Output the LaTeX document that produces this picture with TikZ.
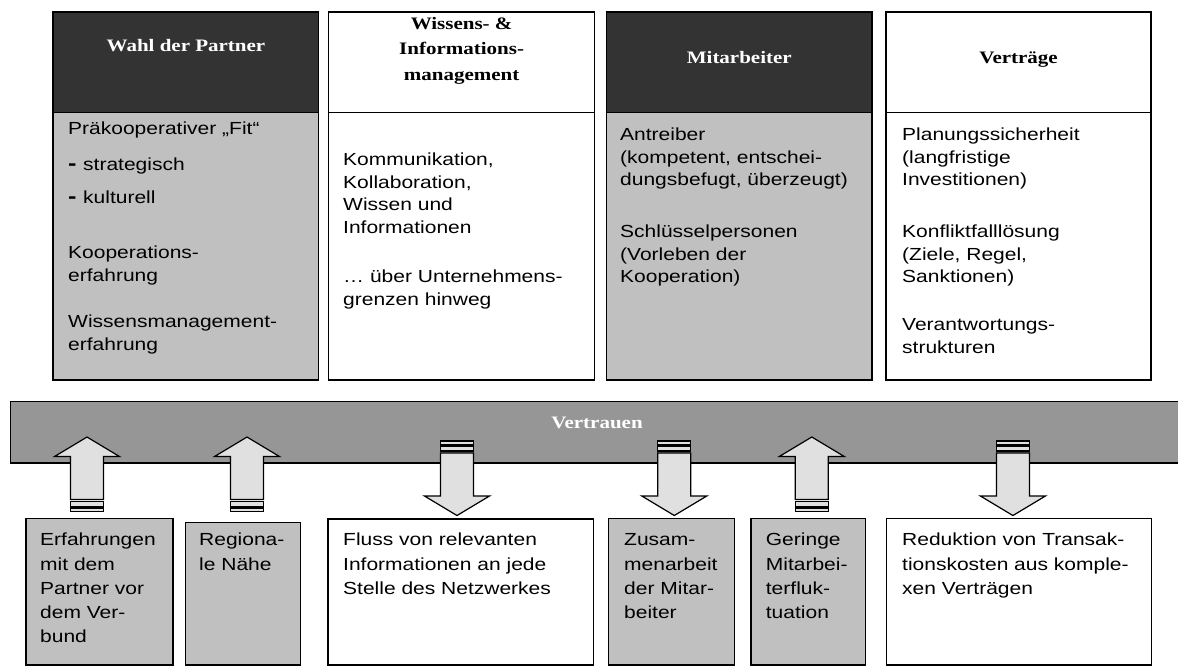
\documentclass[tikz,border=0pt]{standalone}
\usepackage{fontspec}
\newfontfamily\bodyfont[FakeStretch=1.2]{Liberation Sans}
\newfontfamily\headfont[FakeStretch=1.2]{Liberation Serif}
\definecolor{hdrdark}{HTML}{333333}
\definecolor{boxgrey}{HTML}{C0C0C0}
\definecolor{bargrey}{HTML}{969696}
\definecolor{arrfill}{HTML}{E0E0E0}
\tikzset{
  frame/.style={draw=black, line width=1.3pt, anchor=north west, inner sep=0pt, outer sep=0pt},
  darkhead/.style={frame, fill=hdrdark},
  whitehead/.style={frame, fill=white},
  greybody/.style={frame, fill=boxgrey},
  whitebody/.style={frame, fill=white},
  headtxt/.style={inner sep=0pt, align=center, font=\headfont\bfseries\fontsize{17.5}{25.5}\selectfont},
  bodytxt/.style={anchor=north west, inner sep=0pt, align=left, font=\bodyfont\fontsize{17.5}{22.5}\selectfont},
  lowtxt/.style={anchor=north west, inner sep=0pt, align=left, font=\bodyfont\fontsize{17.5}{24.3}\selectfont},
  arrline/.style={draw=black, fill=arrfill, line width=1.2pt, line join=miter},
  uparr/.pic={
    \draw[arrline] (0,0) -- (32.5,19.5) -- (16.5,19.5) -- (16.5,62.5) -- (-16.5,62.5) -- (-16.5,19.5) -- (-32.5,19.5) -- cycle;
    \draw[arrline] (-16.5,64.5) rectangle (16.5,69.5);
    \draw[arrline] (-16.5,71) rectangle (16.5,74.5);
  },
  downarr/.pic={
    \draw[arrline] (-16.5,0) rectangle (16.5,3.5);
    \draw[arrline] (-16.5,5) rectangle (16.5,10);
    \draw[arrline] (-16.5,12) -- (16.5,12) -- (16.5,55) -- (32.5,55) -- (0,74.5) -- (-32.5,55) -- (-16.5,55) -- cycle;
  }
}
\newcommand\dashitem[1]{\makebox[15pt][l]{\bfseries\fontsize{21}{22.5}\selectfont -}#1}
\begin{document}
\begin{tikzpicture}[x=1pt,y=-1pt]
\useasboundingbox[fill=white] (0,0) rectangle (1178,666);

% top boxes: headers
\node[darkhead,  minimum width=265.6pt, minimum height=100.7pt] (h1) at (53,12) {};
\node[whitehead, minimum width=266pt,   minimum height=100.7pt] (h2) at (328.6,12) {};
\node[darkhead,  minimum width=265.5pt, minimum height=100.7pt] (h3) at (606.5,12) {};
\node[whitehead, minimum width=265pt,   minimum height=100.7pt] (h4) at (886,12) {};
% top boxes: bodies
\node[greybody,  minimum width=265.6pt, minimum height=267.3pt] (b1) at (53,112.7) {};
\node[whitebody, minimum width=266pt,   minimum height=267.3pt] (b2) at (328.6,112.7) {};
\node[greybody,  minimum width=265.5pt, minimum height=267.3pt] (b3) at (606.5,112.7) {};
\node[whitebody, minimum width=265pt,   minimum height=267.3pt] (b4) at (886,112.7) {};

% header texts
\node[headtxt, text=white, anchor=base] (t1) at (186,51.5) {Wahl der Partner};
\node[headtxt, anchor=north] (t2) at (461.6,11.15) {\strut Wissens- \&\\\strut Informations-\\\strut management};
\node[headtxt, text=white, anchor=base] (t3) at (739.3,63.5) {Mitarbeiter};
\node[headtxt, anchor=base] (t4) at (1018.5,63.5) {Verträge};

% body texts box 1
\node[bodytxt] (p11) at (68,118.75) {\strut Präkooperativer „Fit“};
\node[bodytxt] (p12) at (68,154.75) {\strut\dashitem{strategisch}};
\node[bodytxt] (p13) at (68,187.75) {\strut\dashitem{kulturell}};
\node[bodytxt] (p14) at (68,242.75) {\strut Kooperations-\\\strut erfahrung};
\node[bodytxt] (p15) at (68,311.75) {\strut Wissensmanagement-\\\strut erfahrung};
% box 2
\node[bodytxt] (p21) at (343,149.75) {\strut Kommunikation,\\\strut Kollaboration,\\\strut Wissen und\\\strut Informationen};
\node[bodytxt] (p22) at (343,266.75) {\strut … über Unternehmens-\\\strut grenzen hinweg};
% box 3
\node[bodytxt] (p31) at (620,124.75) {\strut Antreiber\\\strut (kompetent, entschei-\\\strut dungsbefugt, überzeugt)};
\node[bodytxt] (p32) at (620,221.75) {\strut Schlüsselpersonen\\\strut (Vorleben der\\\strut Kooperation)};
% box 4
\node[bodytxt] (p41) at (902,124.75) {\strut Planungssicherheit\\\strut (langfristige\\\strut Investitionen)};
\node[bodytxt] (p42) at (902,221.75) {\strut Konfliktfalllösung\\\strut (Ziele, Regel,\\\strut Sanktionen)};
\node[bodytxt] (p43) at (902,314.75) {\strut Verantwortungs-\\\strut strukturen};

% trust bar
\node[frame, fill=bargrey, minimum width=1170pt, minimum height=61.5pt] (bar) at (10.3,401.5) {};
\node[headtxt, text=white, anchor=base] (vt) at (597,428.5) {Vertrauen};

% block arrows
\pic (a1) at (87,437) {uparr};
\pic (a2) at (247,437) {uparr};
\pic (a3) at (457,441) {downarr};
\pic (a4) at (674.3,441) {downarr};
\pic (a5) at (811.8,437) {uparr};
\pic (a6) at (1012.9,441) {downarr};

% bottom boxes
\node[greybody,  minimum width=147pt,   minimum height=146.5pt] (bA) at (26,518.5) {};
\node[greybody,  minimum width=115pt,   minimum height=142.5pt] (bB) at (185.6,522.5) {};
\node[whitebody, minimum width=265.5pt, minimum height=146pt]   (bC) at (328,519) {};
\node[greybody,  minimum width=126.2pt, minimum height=146.5pt] (bD) at (608.6,518.5) {};
\node[greybody,  minimum width=114.5pt, minimum height=146.5pt] (bE) at (751,518.5) {};
\node[whitebody, minimum width=265.3pt, minimum height=146.5pt] (bF) at (886.5,518.5) {};

\node[lowtxt] (qA) at (40,528.5) {\strut Erfahrungen\\\strut mit dem\\\strut Partner vor\\\strut dem Ver-\\\strut bund};
\node[lowtxt] (qB) at (199,528.5) {\strut Regiona-\\\strut le Nähe};
\node[lowtxt] (qC) at (343,528.5) {\strut Fluss von relevanten\\\strut Informationen an jede\\\strut Stelle des Netzwerkes};
\node[lowtxt] (qD) at (624,528.5) {\strut Zusam-\\\strut menarbeit\\\strut der Mitar-\\\strut beiter};
\node[lowtxt] (qE) at (765.7,528.5) {\strut Geringe\\\strut Mitarbei-\\\strut terfluk-\\\strut tuation};
\node[lowtxt] (qF) at (902,528.5) {\strut Reduktion von Transak-\\\strut tionskosten aus komple-\\\strut xen Verträgen};
\end{tikzpicture}
\end{document}
